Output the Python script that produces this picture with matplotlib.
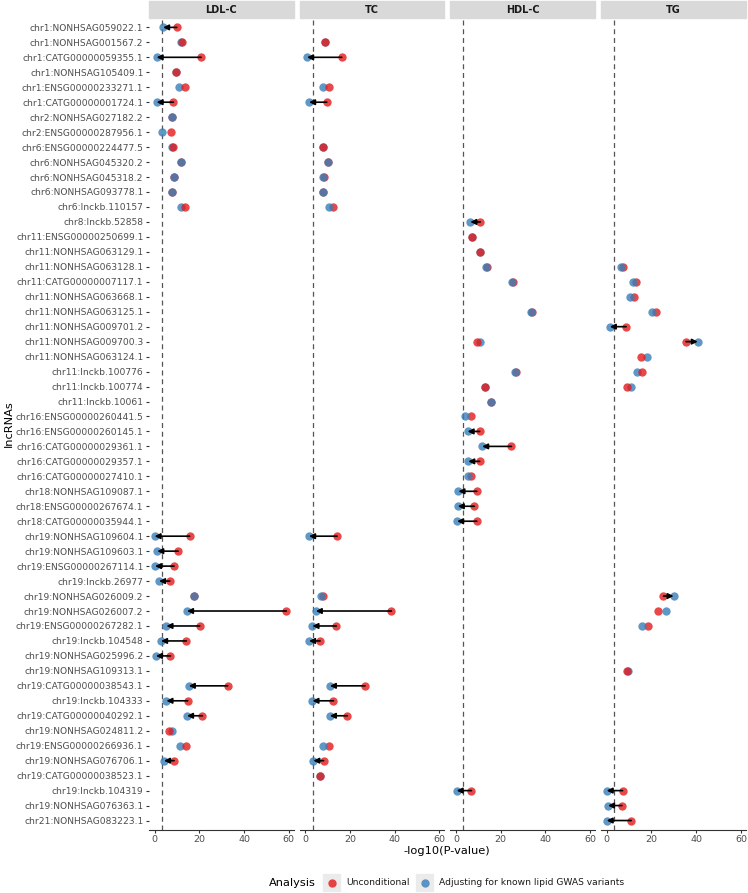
import numpy as np
import matplotlib.pyplot as plt
from matplotlib.patches import Rectangle
from matplotlib.lines import Line2D

# lncRNAs, top to bottom
lncrnas = [
    "chr1:NONHSAG059022.1", "chr1:NONHSAG001567.2", "chr1:CATG00000059355.1",
    "chr1:NONHSAG105409.1", "chr1:ENSG00000233271.1", "chr1:CATG00000001724.1",
    "chr2:NONHSAG027182.2", "chr2:ENSG00000287956.1", "chr6:ENSG00000224477.5",
    "chr6:NONHSAG045320.2", "chr6:NONHSAG045318.2", "chr6:NONHSAG093778.1",
    "chr6:lnckb.110157", "chr8:lnckb.52858", "chr11:ENSG00000250699.1",
    "chr11:NONHSAG063129.1", "chr11:NONHSAG063128.1", "chr11:CATG00000007117.1",
    "chr11:NONHSAG063668.1", "chr11:NONHSAG063125.1", "chr11:NONHSAG009701.2",
    "chr11:NONHSAG009700.3", "chr11:NONHSAG063124.1", "chr11:lnckb.100776",
    "chr11:lnckb.100774", "chr11:lnckb.10061", "chr16:ENSG00000260441.5",
    "chr16:ENSG00000260145.1", "chr16:CATG00000029361.1", "chr16:CATG00000029357.1",
    "chr16:CATG00000027410.1", "chr18:NONHSAG109087.1", "chr18:ENSG00000267674.1",
    "chr18:CATG00000035944.1", "chr19:NONHSAG109604.1", "chr19:NONHSAG109603.1",
    "chr19:ENSG00000267114.1", "chr19:lnckb.26977", "chr19:NONHSAG026009.2",
    "chr19:NONHSAG026007.2", "chr19:ENSG00000267282.1", "chr19:lnckb.104548",
    "chr19:NONHSAG025996.2", "chr19:NONHSAG109313.1", "chr19:CATG00000038543.1",
    "chr19:lnckb.104333", "chr19:CATG00000040292.1", "chr19:NONHSAG024811.2",
    "chr19:ENSG00000266936.1", "chr19:NONHSAG076706.1", "chr19:CATG00000038523.1",
    "chr19:lnckb.104319", "chr19:NONHSAG076363.1", "chr21:NONHSAG083223.1",
]

# row numbers (1 = top), -log10(P) unconditional / adjusted, rows with arrows
ldl_rows = [1, 2, 3, 4, 5, 6, 7, 8, 9, 10, 11, 12, 13,
            35, 36, 37, 38, 39, 40, 41, 42, 43, 45, 46, 47, 48, 49, 50]
ldl_uncond = [9.9, 12.1, 20.8, 9.7, 13.5, 8.4, 7.8, 7.2, 8.1, 11.7, 8.5, 7.8, 13.5,
              15.7, 10.5, 8.7, 6.8, 17.8, 58.9, 20.2, 14.2, 7.1, 32.7, 14.8, 21.4, 6.6, 13.9, 8.7]
ldl_adj = [3.8, 12.0, 0.9, 9.6, 10.8, 0.9, 7.9, 3.3, 8.0, 11.8, 8.6, 7.9, 11.7,
           0.0, 1.2, 0.2, 2.0, 17.5, 14.5, 5.3, 2.9, 0.6, 15.3, 5.3, 14.5, 7.8, 11.4, 4.2]
ldl_arrow = [1, 3, 6, 35, 36, 37, 38, 40, 41, 42, 43, 45, 46, 47, 50]
ldl_red_front = [2, 4, 5, 9, 13, 48, 49]

tc_rows = [2, 3, 5, 6, 9, 10, 11, 12, 13, 35, 39, 40, 41, 42, 45, 46, 47, 49, 50, 51]
tc_uncond = [8.8, 16.3, 10.8, 9.6, 7.8, 10.3, 8.2, 7.9, 12.3, 14.2,
             7.8, 38.5, 13.9, 6.6, 26.7, 12.6, 18.8, 10.5, 8.2, 6.6]
tc_adj = [8.7, 0.8, 8.1, 1.7, 7.7, 10.2, 8.1, 7.8, 10.8, 1.7,
          6.9, 4.7, 3.2, 1.7, 11.0, 3.2, 11.0, 8.1, 3.6, 6.5]
tc_arrow = [3, 6, 35, 40, 41, 42, 45, 46, 47, 50]
tc_red_front = [2, 5, 9, 51]

hdl_rows = [14, 15, 16, 17, 18, 20, 22, 24, 25, 26, 27, 28, 29, 30, 31, 32, 33, 34, 52]
hdl_uncond = [10.9, 7.2, 10.9, 13.9, 25.6, 33.9, 9.4, 26.8, 12.8, 15.8,
              6.6, 10.6, 24.8, 10.6, 6.9, 9.3, 8.2, 9.3, 6.9]
hdl_adj = [6.4, 7.1, 10.8, 13.4, 25.1, 33.4, 10.8, 26.3, 12.9, 15.5,
           4.1, 5.2, 11.7, 5.5, 5.4, 1.1, 0.8, 0.5, 0.3]
hdl_arrow = [14, 28, 29, 30, 32, 33, 34, 52]
hdl_red_front = [15, 16, 22, 25]

tg_rows = [17, 18, 19, 20, 21, 22, 23, 24, 25, 39, 40, 41, 44, 52, 53, 54]
tg_uncond = [7.5, 13.0, 12.3, 21.9, 8.7, 35.5, 15.2, 15.7, 9.3,
             25.4, 23.0, 18.4, 9.1, 7.1, 6.8, 11.0]
tg_adj = [6.3, 11.7, 10.3, 20.2, 1.4, 40.7, 17.8, 13.5, 10.8,
          29.9, 26.7, 16.0, 9.4, 0.0, 0.6, 0.0]
tg_arrow = [21, 22, 39, 52, 53, 54]
tg_red_front = [23, 24, 25, 44]

threshold = 3.3
red = "#E41A1C"
blue = "#377EB8"

panels = [
    ("LDL-C", ldl_rows, ldl_uncond, ldl_adj, ldl_arrow, ldl_red_front),
    ("TC", tc_rows, tc_uncond, tc_adj, tc_arrow, tc_red_front),
    ("HDL-C", hdl_rows, hdl_uncond, hdl_adj, hdl_arrow, hdl_red_front),
    ("TG", tg_rows, tg_uncond, tg_adj, tg_arrow, tg_red_front),
]

W, H = 748, 893
fig = plt.figure(figsize=(W / 100, H / 100), dpi=100)

top_px, bot_px = 18.4, 829.5
n = len(lncrnas)
for i, (name, rows, unc, adj, arrows, red_front) in enumerate(panels):
    left = 149 + i * 150.7
    ax = fig.add_axes([left / W, 1 - bot_px / H, 144.7 / W, (bot_px - top_px) / H])
    ax.set_xlim(-2.5, 62.2)
    ax.set_ylim(n - 1 + 0.6, -0.6)
    ax.axvline(threshold, color="#555555", lw=0.9, ls=(0, (4, 3)), zorder=1)

    for r, u, a in zip(rows, unc, adj):
        y = r - 1
        zr, zb = (3, 2) if r in red_front else (2, 3)
        ax.scatter([u], [y], s=36, color=red, alpha=0.8, linewidths=0, zorder=zr)
        ax.scatter([a], [y], s=36, color=blue, alpha=0.8, linewidths=0, zorder=zb)
        if r in arrows:
            ax.annotate("", xy=(a, y), xytext=(u, y), zorder=5,
                        arrowprops=dict(arrowstyle="-|>", color="black", lw=1.2,
                                        mutation_scale=8, shrinkA=0, shrinkB=0))

    for s in ["top", "right", "left"]:
        ax.spines[s].set_visible(False)
    ax.spines["bottom"].set_color("#333333")
    ax.spines["bottom"].set_linewidth(0.8)
    ax.set_xticks([0, 20, 40, 60])
    ax.tick_params(axis="x", length=2.5, color="#333333", labelsize=6.8,
                   labelcolor="#4D4D4D", pad=1.5)
    if i == 0:
        ax.set_yticks(range(n))
        ax.set_yticklabels(lncrnas)
        ax.tick_params(axis="y", length=2.5, color="#333333", labelsize=6.6,
                       labelcolor="#4D4D4D", pad=1.5)
    else:
        ax.set_yticks([])

    strip_h = 17 / (bot_px - top_px)
    ax.add_patch(Rectangle((0, 1.0), 1, strip_h, transform=ax.transAxes,
                           color="#D9D9D9", clip_on=False, zorder=0))
    ax.text(0.5, 1 + strip_h / 2, name, transform=ax.transAxes, ha="center",
            va="center", fontsize=7, fontweight="bold", color="#1A1A1A")

fig.text(9 / W, 1 - 424 / H, "lncRNAs", rotation=90, ha="center", va="center",
         fontsize=8.2, color="black")
fig.text(447 / W, 1 - 851 / H, "-log10(P-value)", ha="center", va="center",
         fontsize=8.2, color="black")

# legend
ly = 1 - 882.7 / H
fig.text(269 / W, ly, "Analysis", ha="left", va="center", fontsize=8.2)
for cx, col, label in [(331.5, red, "Unconditional"),
                       (424.5, blue, "Adjusting for known lipid GWAS variants")]:
    fig.patches.append(Rectangle(((cx - 8.5) / W, ly - 8.5 / H), 17 / W, 17 / H,
                                 transform=fig.transFigure, color="#EBEBEB", zorder=0))
    fig.lines.append(Line2D([cx / W], [ly], marker="o", markersize=6, color=col,
                            alpha=0.8, markeredgewidth=0, transform=fig.transFigure))
    fig.text((cx + 15) / W, ly, label, ha="left", va="center", fontsize=6.6,
             color="#1A1A1A")

fig.savefig("out.png", dpi=100)
